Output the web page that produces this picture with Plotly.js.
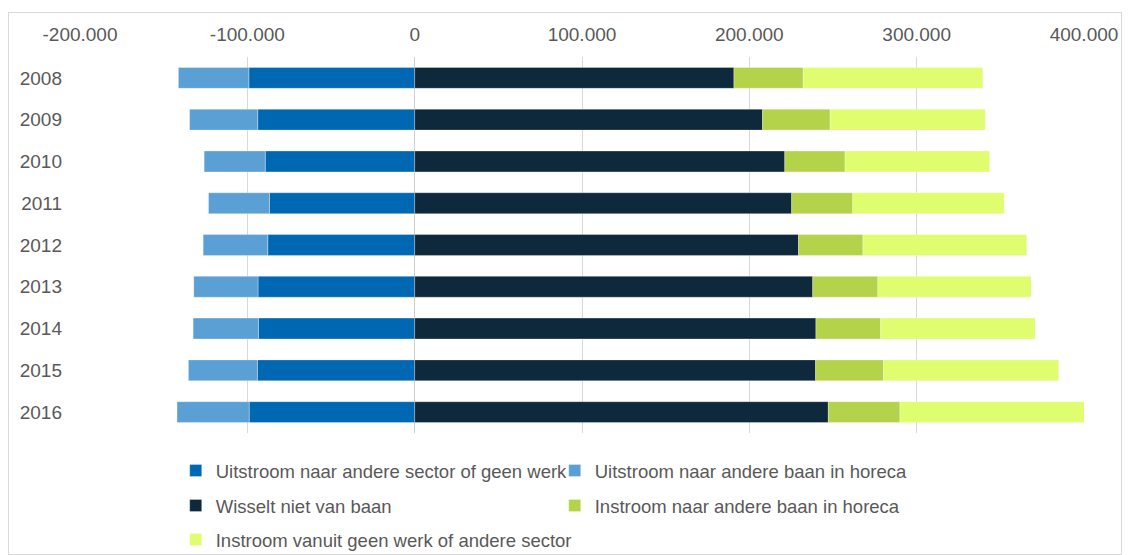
<!DOCTYPE html>
<html>
<head>
<meta charset="utf-8">
<script src="https://cdn.plot.ly/plotly-3.0.1.min.js"></script>
<style>
  html, body { margin: 0; padding: 0; background: #ffffff; }
  #wrap { position: relative; width: 1130px; height: 555px; }
  #chart { width: 1130px; height: 555px; }
  #frame { position: absolute; left: 8px; top: 12px; width: 1112px; height: 541px;
           border: 1px solid #d9d9d9; pointer-events: none; }
</style>
</head>
<body>
<div id="wrap">
  <div id="chart"></div>
  <div id="frame"></div>
</div>
<script>
// Categories (years)
const years = ["2008","2009","2010","2011","2012","2013","2014","2015","2016"];

// Series values (number of persons)
const uitstroomSector  = [-99100, -93800, -89300, -86800, -87800, -93600, -93400, -94000, -98900];
const uitstroomHoreca  = [-42100, -40700, -36500, -36400, -38600, -38400, -39000, -41200, -43100];
const wisseltNiet      = [190800, 207900, 221200, 225300, 229400, 237900, 239800, 239600, 247200];
const instroomHoreca   = [41400, 40400, 36000, 36500, 38500, 38900, 38700, 40600, 42800];
const instroomVanuit   = [107300, 92700, 86400, 90500, 97900, 91600, 92300, 104700, 111600];

// Series names
const names = [
  "Uitstroom naar andere sector of geen werk",
  "Uitstroom naar andere baan in horeca",
  "Wisselt niet van baan",
  "Instroom naar andere baan in horeca",
  "Instroom vanuit geen werk of andere sector"
];

// Axis ticks
const xTickVals = [-200000, -100000, 0, 100000, 200000, 300000, 400000];
const xTickText = ["-200.000", "-100.000", "0", "100.000", "200.000", "300.000", "400.000"];

const colors = ["#0068b2", "#5aa0d4", "#0e283c", "#b5d34a", "#dffd6e"];
const series = [uitstroomSector, uitstroomHoreca, wisseltNiet, instroomHoreca, instroomVanuit];
const legendIds = ["legend", "legend", "legend2", "legend2", "legend3"];

const traces = series.map((vals, i) => ({
  type: "bar",
  orientation: "h",
  name: names[i],
  y: years,
  x: vals,
  legend: legendIds[i],
  cliponaxis: false,
  marker: { color: colors[i], line: { color: "rgba(255,255,255,0.6)", width: 0.5 } },
  hovertemplate: "%{y}: %{x:,d}<extra>" + names[i] + "</extra>"
}));

const FONT = "Liberation Sans, Arial, sans-serif";
const legendBase = {
  orientation: "h",
  xref: "container", yref: "container",
  x: 0.1555, xanchor: "left", yanchor: "middle",
  entrywidth: 334, entrywidthmode: "pixels",
  itemwidth: 30,
  font: { family: FONT, size: 18.5, color: "#595959" },
  bgcolor: "rgba(0,0,0,0)",
  traceorder: "normal"
};

const layout = {
  width: 1130, height: 555,
  margin: { l: 80, r: 46, t: 57, b: 122 },
  paper_bgcolor: "#ffffff",
  plot_bgcolor: "#ffffff",
  barmode: "relative",
  bargap: 0.5,
  separators: ",.",
  font: { family: FONT, size: 19, color: "#595959" },
  xaxis: {
    side: "top",
    range: [-200000, 400000],
    tickvals: xTickVals,
    ticktext: xTickText,
    showgrid: true, gridcolor: "#d9d9d9", gridwidth: 1,
    zeroline: true, zerolinecolor: "#d0d0d0", zerolinewidth: 1,
    showline: false,
    ticks: "",
    ticklabelstandoff: 11,
    tickfont: { family: FONT, size: 19, color: "#595959" },
    fixedrange: true
  },
  yaxis: {
    type: "category",
    categoryorder: "array",
    categoryarray: years,
    autorange: "reversed",
    showgrid: false,
    showline: false,
    zeroline: false,
    ticks: "",
    ticklabelstandoff: 17,
    tickfont: { family: FONT, size: 19, color: "#595959" },
    fixedrange: true
  },
  showlegend: true,
  legend: Object.assign({}, legendBase, { y: (555 - 471) / 555 }),
  legend2: Object.assign({}, legendBase, { y: (555 - 506) / 555 }),
  legend3: Object.assign({}, legendBase, { y: (555 - 540) / 555, entrywidth: 600 })
};

Plotly.newPlot("chart", traces, layout, { displayModeBar: false });
</script>
</body>
</html>
